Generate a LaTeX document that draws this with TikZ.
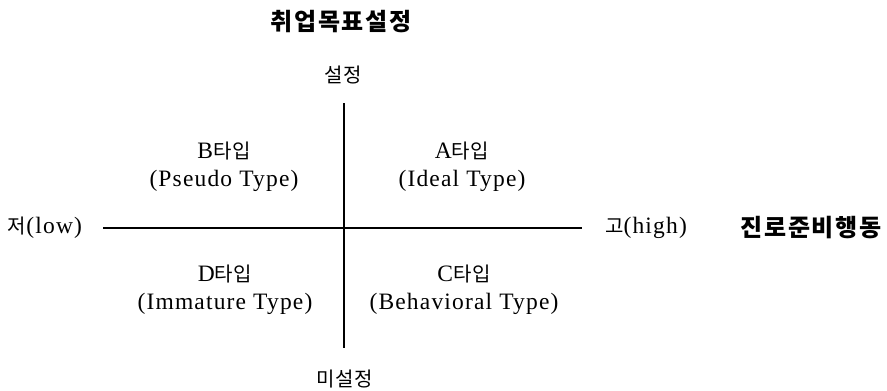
\documentclass[tikz,border=0pt]{standalone}
\usepackage{fontspec}
\setmainfont[LetterSpace=5]{Liberation Serif}
\newfontfamily\kr[LetterSpace=3]{Noto Sans CJK KR}
\newfontfamily\krbold[LetterSpace=7]{Noto Sans CJK KR}
\newcommand\krtext[1]{{\kr\fontsize{20}{28}\selectfont #1}}
\tikzset{
  lbl/.style={font=\fontsize{23.5}{28}\selectfont, inner sep=0pt, align=center},
  head/.style={font=\krbold\bfseries\fontsize{24}{26}\selectfont, inner sep=0pt},
  axis/.style={line width=1.5pt, draw=black}
}
\begin{document}
\begin{tikzpicture}[x=1pt,y=-1pt]
\useasboundingbox (0,0) rectangle (887,391);
% headings
\node[head] (ytitle) at (341,22) {취업목표설정};
\node[head] (xtitle) at (811,228) {진로준비행동};
% axis end labels
\node[lbl] (top) at (343,75) {\krtext{설정}};
\node[lbl] (bottom) at (345,379) {\krtext{미설정}};
\node[lbl] (left) at (45,228) {\krtext{저}(low)};
\node[lbl] (right) at (646,228) {\krtext{고}(high)};
% axes
\coordinate (vt) at (344,103);
\coordinate (vb) at (344,348);
\coordinate (hl) at (103,228);
\coordinate (hr) at (582,228);
\draw[axis] (vt) -- (vb);
\draw[axis] (hl) -- (hr);
% quadrants
\node[lbl] (qb) at (224,167) {B\krtext{타입}\\(Pseudo Type)};
\node[lbl] (qa) at (462,167) {A\krtext{타입}\\(Ideal Type)};
\node[lbl] (qd) at (225,290) {D\krtext{타입}\\(Immature Type)};
\node[lbl] (qc) at (464,290) {C\krtext{타입}\\(Behavioral Type)};
\end{tikzpicture}
\end{document}
